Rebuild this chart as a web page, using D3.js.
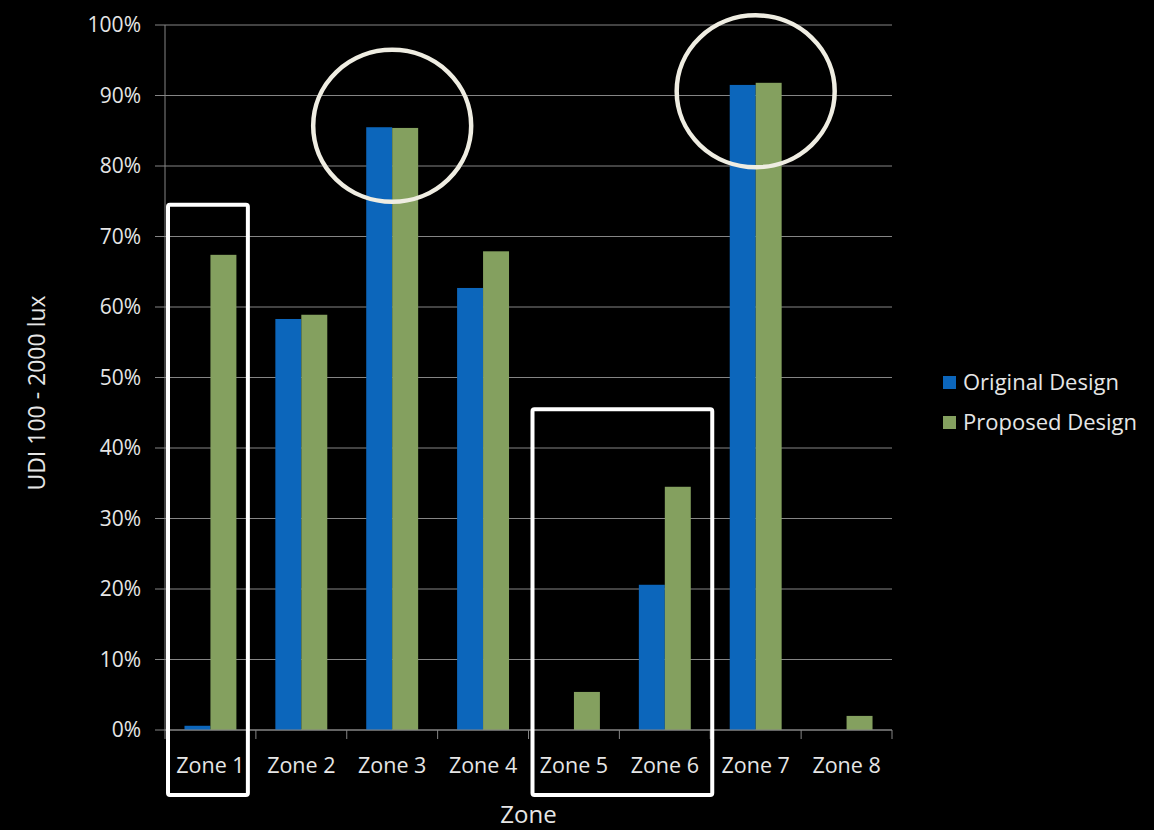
<!DOCTYPE html>
<html>
<head>
<meta charset="utf-8">
<script src="https://cdn.jsdelivr.net/npm/d3@7"></script>
<style>
  html, body { margin: 0; padding: 0; background: #000; }
  svg { display: block; }
  text { font-family: "Open Sans", "Noto Sans", sans-serif; fill: #e6e6e6; }
</style>
</head>
<body>
<svg></svg>
<script>
// data
const zones = ["Zone 1", "Zone 2", "Zone 3", "Zone 4", "Zone 5", "Zone 6", "Zone 7", "Zone 8"];
const seriesNames = ["Original Design", "Proposed Design"];
const original = [0.006, 0.583, 0.855, 0.627, 0, 0.206, 0.915, 0];
const proposed = [0.674, 0.589, 0.854, 0.679, 0.054, 0.345, 0.918, 0.020];
const yTicks = [0, 0.1, 0.2, 0.3, 0.4, 0.5, 0.6, 0.7, 0.8, 0.9, 1.0];
const colors = ["#0c66bb", "#84a05f"];

// annotations: boxes around zones (from, to, top value), rings around zones at a value
const boxes = [
    {from: "Zone 1", to: "Zone 1", top: 0.745, padL: 3, padR: -8},
    {from: "Zone 5", to: "Zone 6", top: 0.455, padL: 4, padR: 2}
];
const rings = [{zone: "Zone 3", value: 0.857}, {zone: "Zone 7", value: 0.906}];

const width = 1154, height = 830;
const margin = {top: 25, right: 262, bottom: 100, left: 165};
const innerWidth = width - margin.left - margin.right;
const innerHeight = height - margin.top - margin.bottom;

const svg = d3.select("svg").attr("width", width).attr("height", height);
svg.append("rect").attr("width", width).attr("height", height).attr("fill", "#000");

const g = svg.append("g").attr("transform", "translate(" + margin.left + "," + margin.top + ")");

const x = d3.scaleBand().domain(zones).range([0, innerWidth]).paddingInner(0).paddingOuter(0);
const x1 = d3.scaleBand().domain(seriesNames).range([0, x.bandwidth()]).paddingInner(0).paddingOuter(0.75);
const y = d3.scaleLinear().domain([0, 1]).range([innerHeight, 0]);

// gridlines + y ticks
g.selectAll(".grid").data(yTicks).enter().append("line")
    .attr("x1", -10).attr("x2", innerWidth)
    .attr("y1", d => y(d)).attr("y2", d => y(d))
    .attr("stroke", "#858585").attr("stroke-width", 1);

g.selectAll(".ylab").data(yTicks).enter().append("text")
    .attr("x", -24).attr("y", d => y(d)).attr("dy", "0.35em")
    .attr("text-anchor", "end").attr("font-size", 21)
    .text(d => d3.format(".0%")(d));

// y axis line
g.append("line").attr("x1", 0).attr("x2", 0).attr("y1", 0).attr("y2", innerHeight)
    .attr("stroke", "#858585");

// x tick marks at band edges
const edges = zones.map(z => x(z)).concat([innerWidth]);
g.selectAll(".xtick").data(edges).enter().append("line")
    .attr("x1", d => d).attr("x2", d => d)
    .attr("y1", innerHeight).attr("y2", innerHeight + 9)
    .attr("stroke", "#858585");

// bars
const table = zones.map((z, i) => ({zone: z, vals: [original[i], proposed[i]]}));
const zoneG = g.selectAll(".zone").data(table).enter().append("g")
    .attr("transform", d => "translate(" + x(d.zone) + ",0)");
zoneG.selectAll("rect").data(d => d.vals.map((v, j) => ({name: seriesNames[j], v: v, j: j})))
    .enter().append("rect")
    .attr("x", d => x1(d.name))
    .attr("width", x1.bandwidth())
    .attr("y", d => y(d.v))
    .attr("height", d => innerHeight - y(d.v))
    .attr("fill", d => colors[d.j]);

// x axis baseline (drawn over bars)
g.append("line").attr("x1", 0).attr("x2", innerWidth).attr("y1", innerHeight).attr("y2", innerHeight)
    .attr("stroke", "#858585");

// x labels
g.selectAll(".xlab").data(zones).enter().append("text")
    .attr("x", d => x(d) + x.bandwidth() / 2).attr("y", innerHeight + 43)
    .attr("text-anchor", "middle").attr("font-size", 21.5)
    .text(d => d);

// axis titles
g.append("text").attr("x", innerWidth / 2).attr("y", innerHeight + 93)
    .attr("text-anchor", "middle").attr("font-size", 24).text("Zone");
svg.append("text")
    .attr("transform", "translate(45," + 393 + ") rotate(-90)")
    .attr("text-anchor", "middle").attr("font-size", 23)
    .text("UDI 100 - 2000 lux");

// legend
const legend = svg.append("g").attr("transform", "translate(943,382)");
seriesNames.forEach((name, i) => {
    legend.append("rect").attr("x", 0).attr("y", i * 40 - 6).attr("width", 13).attr("height", 13)
        .attr("fill", colors[i]);
    legend.append("text").attr("x", 20).attr("y", i * 40).attr("dy", "0.35em")
        .attr("font-size", 22).text(name);
});

// annotation boxes
boxes.forEach(b => {
    const x0 = x(b.from) + b.padL, xEnd = x(b.to) + x.bandwidth() + b.padR;
    const top = y(b.top);
    g.append("rect")
        .attr("x", x0).attr("y", top)
        .attr("width", xEnd - x0).attr("height", innerHeight + 65 - top)
        .attr("rx", 2)
        .attr("fill", "none").attr("stroke", "#ffffff").attr("stroke-width", 4);
});

// annotation rings
rings.forEach(r => {
    g.append("ellipse")
        .attr("cx", x(r.zone) + x.bandwidth() / 2)
        .attr("cy", y(r.value))
        .attr("rx", 79).attr("ry", 76)
        .attr("fill", "none").attr("stroke", "#efede2").attr("stroke-width", 4.5);
});
</script>
</body>
</html>
